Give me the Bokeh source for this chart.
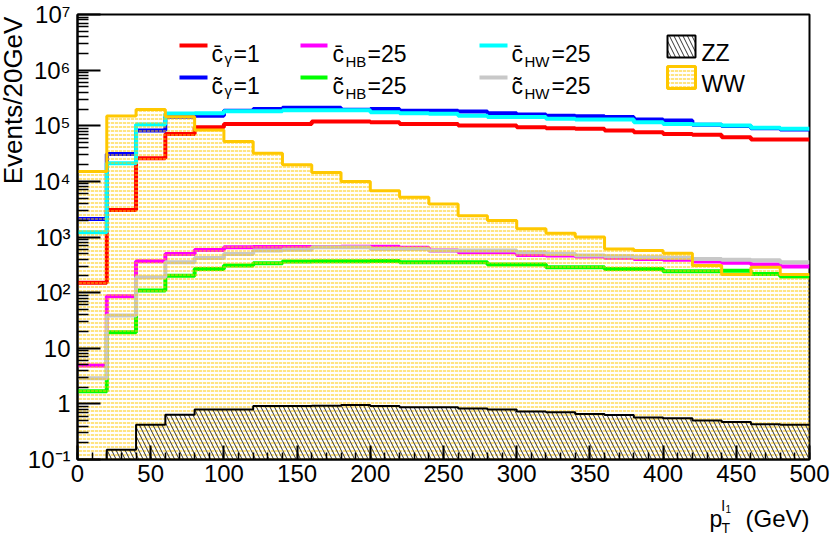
import math
from bokeh.plotting import figure
from bokeh.models import Range1d, FixedTicker, Label
from bokeh.layouts import column, row
from bokeh.embed import file_html
from bokeh.resources import INLINE

# ---------------- data ----------------
edges = list(range(0, 520, 20))  # 25 bins of 20 GeV, 0..500

ww = [1.5e4, 1.5e5, 1.96e5, 1.45e5, 8.4e4, 5.2e4, 3.2e4, 2.0e4, 1.44e4, 1.0e4,
      6.8e3, 5.2e3, 3.9e3, 2.4e3, 1.97e3, 1.4e3, 1.17e3, 1.0e3, 611, 569,
      509, 306, 211, 285, 211]
zz = [0.05, 0.15, 0.42, 0.64, 0.79, 0.79, 0.92, 0.92, 0.93, 0.95,
      0.92, 0.87, 0.87, 0.83, 0.79, 0.73, 0.71, 0.66, 0.63, 0.57,
      0.55, 0.50, 0.47, 0.43, 0.42]
cbar_gamma = [150, 3.07e3, 2.6e4, 7.1e4, 9.4e4, 1.08e5, 1.08e5, 1.08e5, 1.19e5, 1.19e5,
              1.16e5, 1.08e5, 1.08e5, 1.01e5, 1.01e5, 9.4e4, 9.0e4, 8.8e4, 8.2e4, 7.66e4,
              7.1e4, 6.86e4, 6.2e4, 5.65e4, 5.65e4]
ctil_gamma = [2.1e3, 3.1e4, 8.2e4, 1.45e5, 1.52e5, 1.87e5, 2.0e5, 2.1e5, 2.1e5, 1.93e5,
              2.0e5, 1.87e5, 1.87e5, 1.8e5, 1.68e5, 1.6e5, 1.52e5, 1.48e5, 1.43e5, 1.30e5,
              1.24e5, 1.04e5, 9.9e4, 9.0e4, 8.6e4]
cbar_hb = [4.9, 86, 366, 496, 585, 653, 663, 663, 663, 665,
           665, 640, 569, 531, 531, 476, 466, 444, 425, 404,
           390, 361, 345, 319, 294]
ctil_hb = [1.68, 19.4, 109, 202, 267, 306, 337, 361, 366, 366,
           372, 351, 351, 351, 319, 319, 285, 285, 267, 267,
           242, 242, 248, 217, 194]
cbar_hw = [1.22e3, 2.12e4, 1.05e5, 1.66e5, 1.68e5, 1.82e5, 1.82e5, 1.9e5, 1.9e5, 1.9e5,
           1.75e5, 1.68e5, 1.64e5, 1.52e5, 1.43e5, 1.43e5, 1.33e5, 1.30e5, 1.29e5, 1.16e5,
           1.08e5, 1.05e5, 1.01e5, 9.2e4, 8.8e4]
ctil_hw = [2.9, 38.6, 189, 351, 421, 496, 569, 590, 653, 653,
           610, 610, 569, 569, 569, 531, 500, 466, 450, 434,
           425, 404, 390, 380, 351]

x_ticks = list(range(0, 550, 50))
x_minor = list(range(0, 510, 10))
y_ticks = [0.1, 1, 10, 100, 1e3, 1e4, 1e5, 1e6, 1e7]
y_tick_labels = ["10\u207b\u00b9", "1", "10", "10\u00b2", "10\u00b3", "10\u2074",
                 "10\u2075", "10\u2076", "10\u2077"]

# ---------------- layout geometry (page pixels) ----------------
FONT = "Liberation Sans"
PAGE_W, PAGE_H = 830, 534
YT_W = 23                      # strip for the y title
MAIN_H = 492                   # main plot height
XT_H = PAGE_H - MAIN_H         # strip for the x title
FRAME_L, FRAME_R, FRAME_T, FRAME_B = 77, 809, 14, 459

p = figure(width=PAGE_W - YT_W, height=MAIN_H, output_backend="svg", toolbar_location=None,
           y_axis_type="log", x_range=Range1d(0, 500), y_range=Range1d(0.1, 1e7),
           min_border_left=FRAME_L - YT_W, min_border_right=PAGE_W - FRAME_R,
           min_border_top=FRAME_T, min_border_bottom=MAIN_H - FRAME_B)
p.grid.visible = False
p.outline_line_color = "black"
p.outline_line_width = 2
p.background_fill_color = "white"
p.border_fill_color = "white"

def X(px):
    return (px - FRAME_L) / (FRAME_R - FRAME_L) * 500.0
def Y(py):
    return 10 ** (7 - (py - FRAME_T) / ((FRAME_B - FRAME_T) / 8.0))

def stepy(v):
    return list(v) + [v[-1]]

series = [
    (cbar_gamma, "#ff0000"),
    (ctil_gamma, "#0000ff"),
    (cbar_hb, "#ff00ff"),
    (ctil_hb, "#00ff00"),
    (cbar_hw, "#00ffff"),
    (ctil_hw, "#c8c8c8"),
]
for vals, col in series:
    p.step(x=edges, y=stepy(vals), mode="after", line_color=col, line_width=4)

WWC = "#ffc800"
bottoms = [1e-3] * len(ww)
p.quad(left=edges[:-1], right=edges[1:], top=ww, bottom=bottoms,
       fill_color=None, line_color=None,
       hatch_pattern="horizontal_dash", hatch_color=WWC, hatch_scale=4,
       hatch_weight=1.4, hatch_alpha=0.7)
p.step(x=edges, y=stepy(ww), mode="after", line_color=WWC, line_width=3)

p.quad(left=edges[:-1], right=edges[1:], top=zz, bottom=bottoms,
       fill_color=None, line_color=None,
       hatch_pattern="left_diagonal_line", hatch_color="#333333", hatch_scale=9, hatch_weight=1)
p.step(x=edges, y=stepy(zz), mode="after", line_color="black", line_width=2)

# ---------------- axes ----------------
xa = p.xaxis[0]
xa.ticker = FixedTicker(ticks=x_ticks, minor_ticks=x_minor)
ya = p.yaxis[0]
ya.ticker = FixedTicker(ticks=y_ticks,
                        minor_ticks=[k * 10 ** e for e in range(-1, 7) for k in range(2, 10)])
ya.major_label_overrides = {t: s for t, s in zip(y_ticks, y_tick_labels)}
for ax, mj, mn in ((xa, 14, 7), (ya, 23, 11)):
    ax.major_tick_in = mj
    ax.major_tick_out = 0
    ax.minor_tick_in = mn
    ax.minor_tick_out = 0
    ax.major_tick_line_width = 2
    ax.minor_tick_line_width = 1.5
    ax.major_tick_line_color = "black"
    ax.minor_tick_line_color = "black"
    ax.axis_line_width = 2
    ax.axis_line_color = "black"
    ax.major_label_text_font = FONT
    ax.major_label_text_font_size = "24px"
    ax.major_label_text_color = "black"
xa.major_label_standoff = 5
ya.major_label_standoff = 7

def lab(fig, x, y, text, size, align="left", baseline="alphabetic", angle=0.0):
    fig.add_layout(Label(x=x, y=y, text=text, text_font=FONT,
                         text_font_size=f"{size}px", text_color="black",
                         text_align=align, text_baseline=baseline, angle=angle))

# ---------------- legend (inside the frame) ----------------
rows = [(45, 53), (77, 85)]
cols = [(179, 207, 211), (300, 327, 332), (479, 507, 511)]
leg = [
    [("c\u0304", "\u03b3", "=1", "#ff0000"), ("c\u0304", "HB", "=25", "#ff00ff"), ("c\u0304", "HW", "=25", "#00ffff")],
    [("c\u0303", "\u03b3", "=1", "#0000ff"), ("c\u0303", "HB", "=25", "#00ff00"), ("c\u0303", "HW", "=25", "#c8c8c8")],
]
for (ly, tb), rw in zip(rows, leg):
    for (x0, x1, tx), (c, sub, eq, col) in zip(cols, rw):
        p.segment(x0=[X(x0)], y0=[Y(ly)], x1=[X(x1)], y1=[Y(ly)], line_color=col, line_width=4)
        lab(p, X(tx), Y(tb), c, 23)
        sw = 13
        lab(p, X(tx + sw), Y(tb + (5 if sub == "\u03b3" else 8)), sub, 15)
        sub_w = 8 if sub == "\u03b3" else (21 if sub == "HB" else 26)
        lab(p, X(tx + sw + sub_w + 1), Y(tb), eq, 23)

p.quad(left=[X(667)], right=[X(695)], top=[Y(35)], bottom=[Y(57)],
       fill_color="white", line_color="black", line_width=2,
       hatch_pattern="left_diagonal_line", hatch_color="#333333", hatch_scale=9, hatch_weight=1)
p.quad(left=[X(667)], right=[X(695)], top=[Y(66)], bottom=[Y(88)],
       fill_color="white", line_color=WWC, line_width=3,
       hatch_pattern="horizontal_dash", hatch_color=WWC, hatch_scale=4,
       hatch_weight=1.4, hatch_alpha=0.7)
lab(p, X(701), Y(52), "ZZ", 23)
lab(p, X(701), Y(83), "WW", 23)

# ---------------- title strips (pixel coordinates, y downwards) ----------------
def strip(w, h):
    f = figure(width=w, height=h, output_backend="svg", toolbar_location=None,
               x_range=Range1d(0, w), y_range=Range1d(h, 0),
               min_border=0, x_axis_location=None, y_axis_location=None)
    f.grid.visible = False
    f.outline_line_color = None
    f.background_fill_color = "white"
    f.border_fill_color = "white"
    return f

yt = strip(YT_W, MAIN_H)
lab(yt, 12, 95, "Events/20GeV", 26, align="center", angle=math.pi / 2)

xt = strip(PAGE_W, XT_H)
y0 = MAIN_H
lab(xt, 709, 518 - y0, "p", 23)
lab(xt, 721, 505 - y0, "l", 15)
lab(xt, 725, 508 - y0, "1", 10)
lab(xt, 721, 527 - y0, "T", 14)
lab(xt, 809, 518 - y0, "(GeV)", 24, align="right")

layout = column(row(yt, p), xt)
open("out.html", "w").write(file_html(layout, INLINE))
